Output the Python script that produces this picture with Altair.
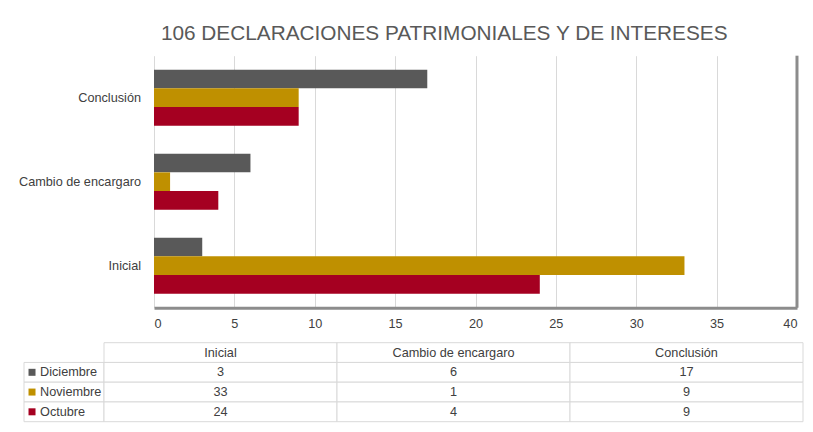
import altair as alt
import pandas as pd

FONT = "Liberation Sans"
TXT = "#404040"
GRID = "#d9d9d9"

title_text = "106 DECLARACIONES PATRIMONIALES Y DE INTERESES"
categories = ["Inicial", "Cambio de encargaro", "Conclusión"]
series = ["Diciembre", "Noviembre", "Octubre"]
diciembre = [3, 6, 17]
noviembre = [33, 1, 9]
octubre = [24, 4, 9]
colors = ["#595959", "#BF9000", "#A50021"]
x_ticks = [0, 5, 10, 15, 20, 25, 30, 35, 40]

# long table built from the arrays
rows = []
for s, vals in zip(series, [diciembre, noviembre, octubre]):
    for c, v in zip(categories, vals):
        rows.append({"serie": s, "categoria": c, "valor": v})
df = pd.DataFrame(rows)

bar_order = list(reversed(categories))  # Conclusión at top
y_scale = alt.Scale(domain=bar_order, paddingInner=1 / 3, paddingOuter=1 / 6)
color_scale = alt.Scale(domain=series, range=colors)

bars = alt.Chart(df).mark_bar().encode(
    x=alt.X(
        "valor:Q",
        scale=alt.Scale(domain=[x_ticks[0], x_ticks[-1]], nice=False),
        axis=alt.Axis(
            values=x_ticks, title=None, grid=True, gridColor=GRID, ticks=False, tickSize=0,
            domainColor="#8c8c8c", domainWidth=3, labelFontSize=12.7, labelColor=TXT,
            labelFont=FONT, labelPadding=10,
        ),
    ),
    y=alt.Y("categoria:N", scale=y_scale, axis=None),
    yOffset=alt.YOffset("serie:N", scale=alt.Scale(domain=series, paddingInner=0, paddingOuter=0)),
    color=alt.Color("serie:N", scale=color_scale, legend=None),
)

shadow = alt.Chart(pd.DataFrame({"valor": [x_ticks[-1]]})).mark_rule(
    color="#8c8c8c", strokeWidth=3
).encode(x=alt.X("valor:Q"))

bar_panel = alt.layer(bars, shadow).properties(width=643, height=252)

label_panel = alt.Chart(pd.DataFrame({"categoria": categories})).mark_text(
    align="right", baseline="middle", dx=-13, fontSize=12.7, color=TXT, font=FONT
).encode(
    x=alt.value("width"),
    y=alt.Y("categoria:N", scale=y_scale, axis=None),
    text="categoria:N",
).properties(width=130, height=252)

# data table
HDR = "encabezado"
table_rows = [HDR] + series
cells = [{"col": c, "row": HDR, "text": c} for c in categories]
for s, vals in zip(series, [diciembre, noviembre, octubre]):
    for c, v in zip(categories, vals):
        cells.append({"col": c, "row": s, "text": str(v)})
tdf = pd.DataFrame(cells)

tbase = alt.Chart(tdf).encode(
    x=alt.X("col:N", scale=alt.Scale(domain=categories, paddingInner=0, paddingOuter=0), axis=None),
    y=alt.Y("row:N", scale=alt.Scale(domain=table_rows, paddingInner=0, paddingOuter=0), axis=None),
)
table_panel = alt.layer(
    tbase.mark_rect(fill="white", stroke=GRID, strokeWidth=1),
    tbase.mark_text(fontSize=12.7, color=TXT, font=FONT).encode(text="text:N"),
).properties(width=699, height=79)

ldf = pd.DataFrame({"serie": series, "col": ["leyenda"] * len(series)})
lbase = alt.Chart(ldf).encode(
    y=alt.Y("serie:N", scale=alt.Scale(domain=table_rows, paddingInner=0, paddingOuter=0), axis=None),
)
lx = alt.Scale(domain=["leyenda"], paddingInner=0, paddingOuter=0)
legend_panel = alt.layer(
    lbase.mark_rect(fill="white", stroke=GRID, strokeWidth=1).encode(
        x=alt.X("col:N", scale=lx, axis=None)
    ),
    lbase.mark_square(size=49, opacity=1, xOffset=8).encode(
        x=alt.X("col:N", scale=lx, axis=None, bandPosition=0),
        color=alt.Color("serie:N", scale=color_scale, legend=None),
    ),
    lbase.mark_text(align="left", baseline="middle", dx=16, fontSize=12.7, color=TXT, font=FONT).encode(
        x=alt.X("col:N", scale=lx, axis=None, bandPosition=0),
        text="serie:N",
    ),
).properties(width=80, height=79)

row1 = alt.hconcat(label_panel, bar_panel, spacing=0, bounds="flush")
row2 = alt.hconcat(legend_panel, table_panel, spacing=0, bounds="flush")

chart = alt.vconcat(row1, row2, spacing=11).properties(
    title=alt.TitleParams(
        title_text, fontSize=20.8, font=FONT, color="#595959", fontWeight="normal",
        anchor="middle", offset=9.6, dx=33,
    ),
    padding={"left": 10, "top": 14.7, "right": 0, "bottom": 2},
    background="white",
).configure_view(stroke=None)

chart.save("out.html", embed_options={"renderer": "svg", "actions": False})
